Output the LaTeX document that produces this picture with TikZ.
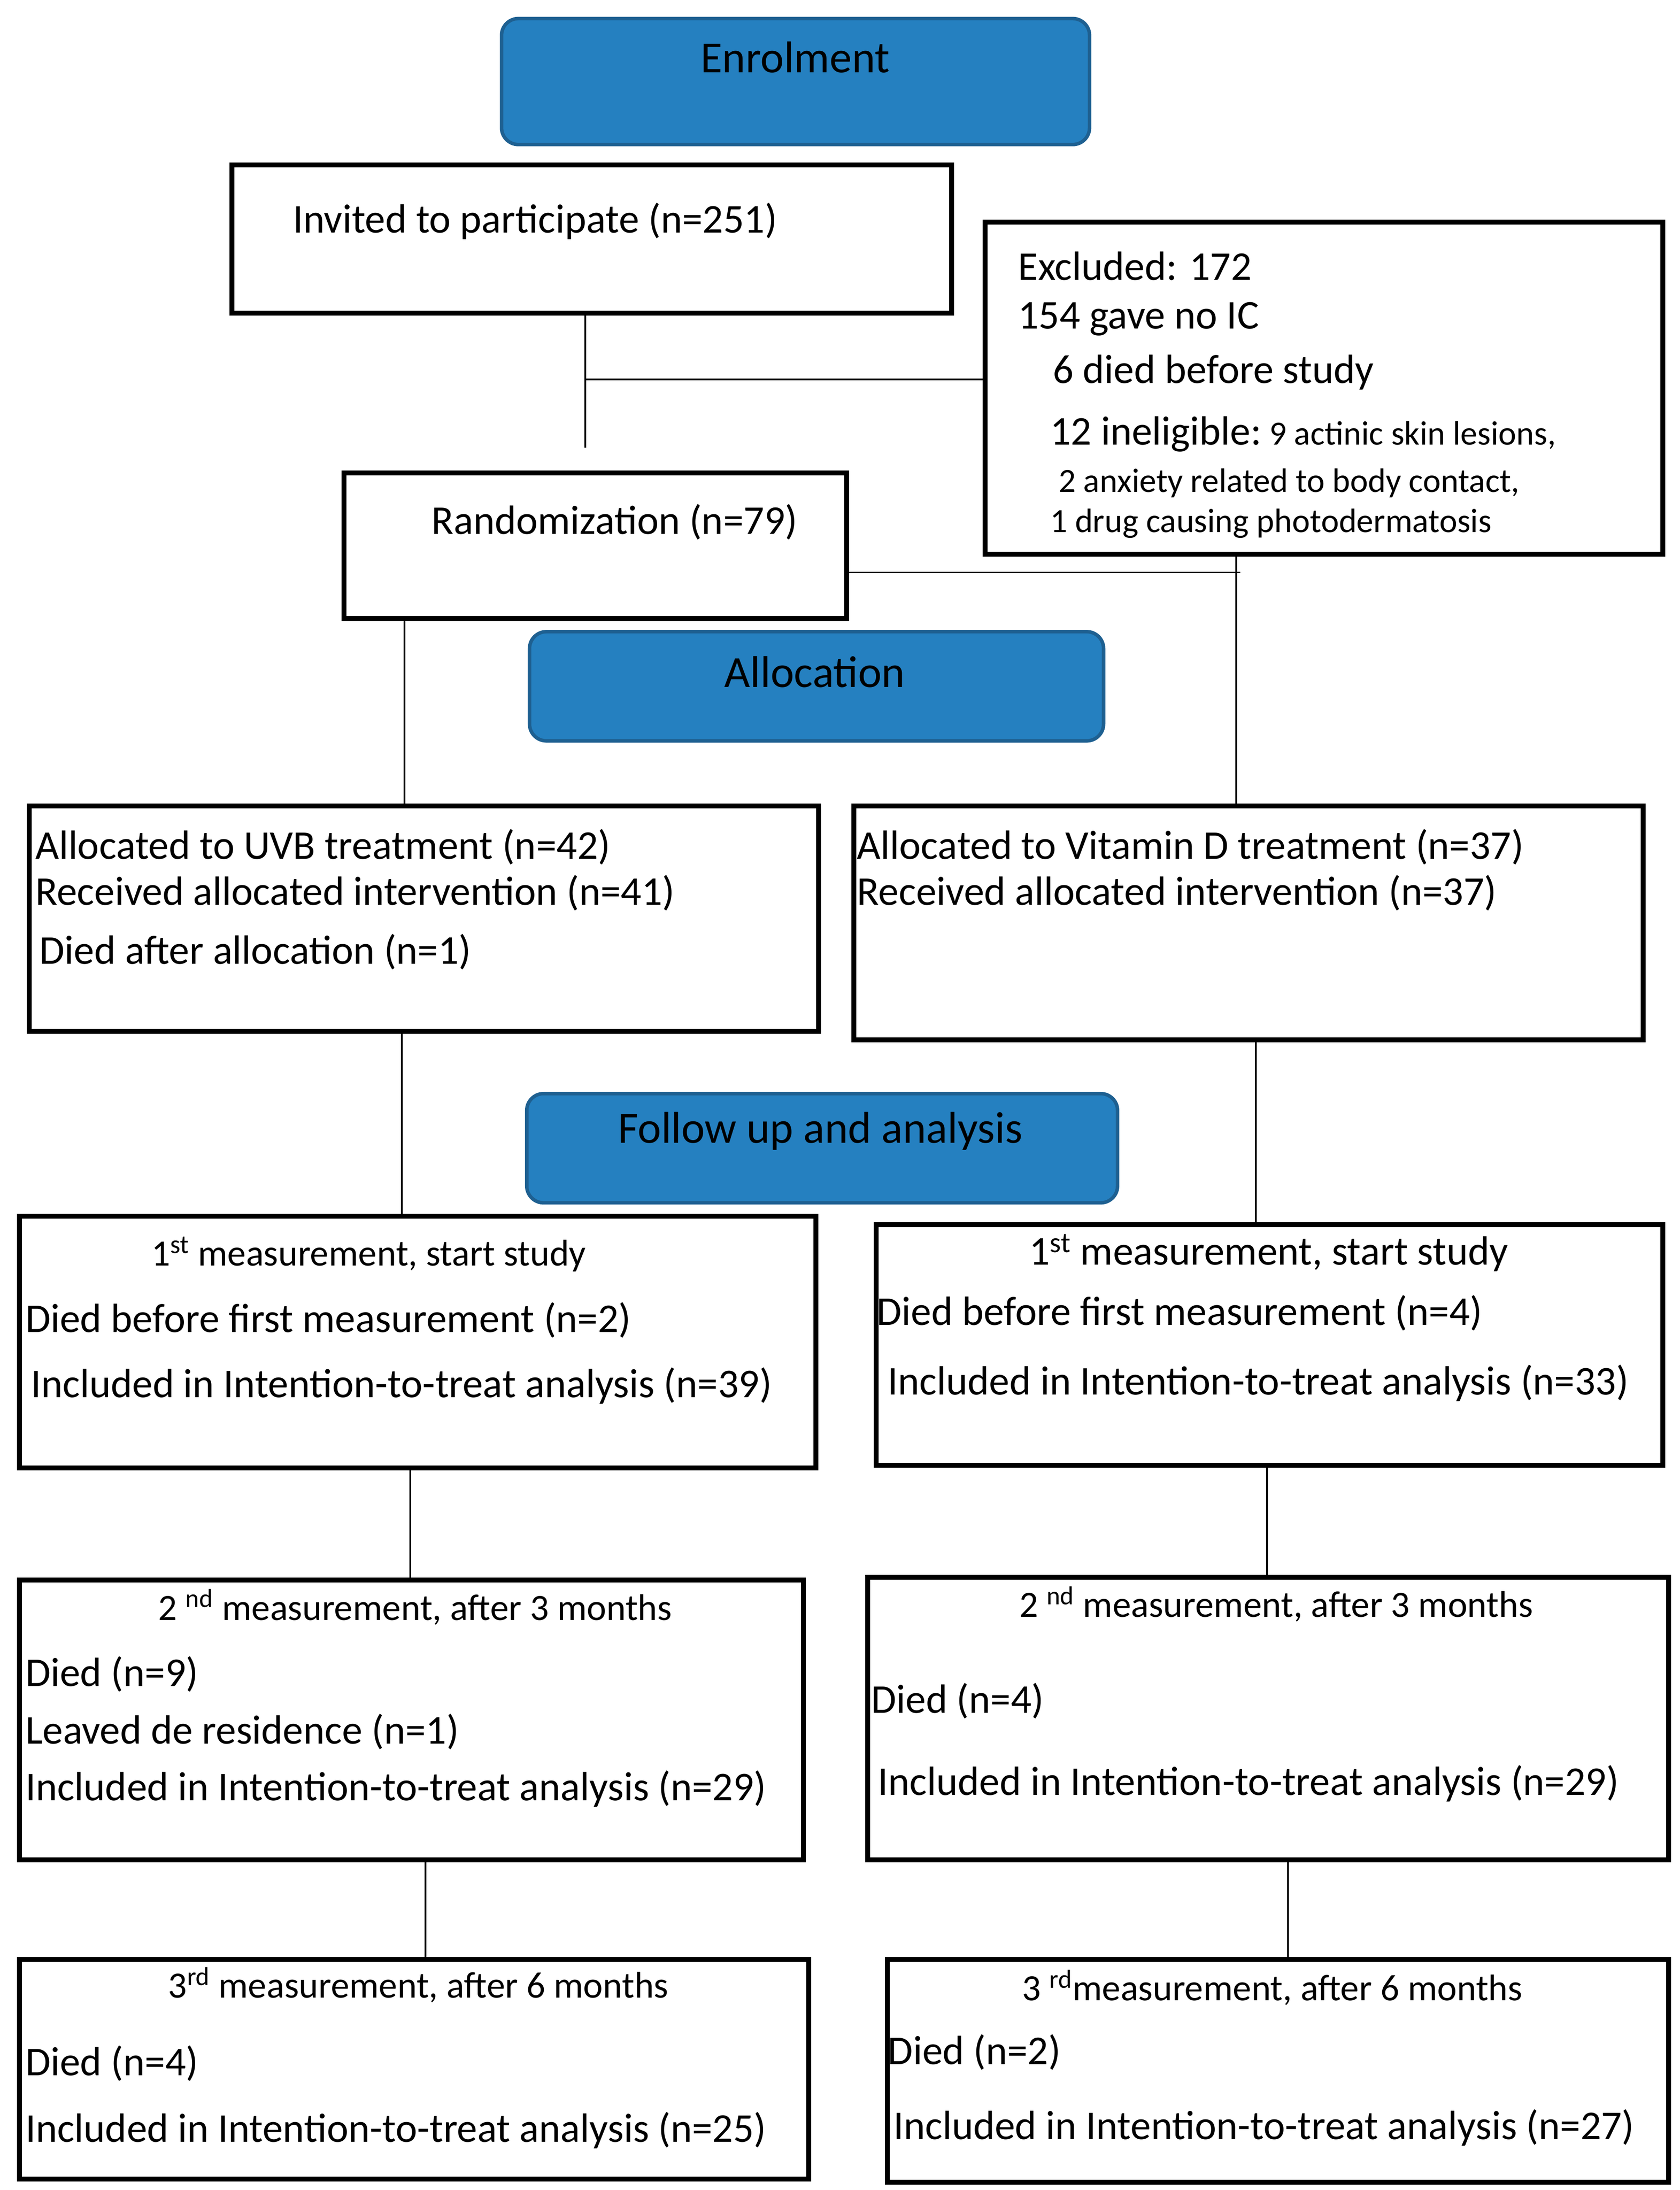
\documentclass[tikz,border=0pt]{standalone}
\usepackage{fontspec}
\setmainfont{Carlito}
\definecolor{hdrblue}{RGB}{37,128,192}
\definecolor{hdrborder}{RGB}{30,96,145}
\begin{document}
\begin{tikzpicture}[x=1pt,y=-1pt,
  box/.style={draw, line width=3.5pt, inner sep=0pt, anchor=north west},
  hdr/.style={draw=hdrborder, fill=hdrblue, line width=2.5pt, rounded corners=12pt, inner sep=0pt, anchor=north west},
  conn/.style={line width=1.2pt},
  txt/.style={anchor=west, inner sep=0pt, font=\fontsize{29.2}{34}\selectfont},
  mtxt/.style={anchor=west, inner sep=0pt, font=\fontsize{26.5}{31}\selectfont},
  htxt/.style={anchor=center, inner sep=0pt, font=\fontsize{31.8}{36}\selectfont},
  small/.style={anchor=west, inner sep=0pt, font=\fontsize{24.2}{28}\selectfont}]
\useasboundingbox (0,0) rectangle (1200,1564.5);

% header boxes
\node[hdr, minimum width=420pt, minimum height=90pt] (enr) at (357,12) {};
\node[htxt] (enrt) at (568,41) {Enrolment};
\node[hdr, minimum width=410pt, minimum height=78pt] (alc) at (377,450) {};
\node[htxt] (alct) at (582,480) {Allocation};
\node[hdr, minimum width=422pt, minimum height=78pt] (fup) at (375,780) {};
\node[htxt] (fupt) at (586,808) {Follow up and analysis};

% enrolment boxes
\node[box, minimum width=514pt, minimum height=106pt] (inv) at (164,116) {};
\node[txt] (invt) at (209,158) {Invited to participate (n=251)};
\node[box, minimum width=484pt, minimum height=237pt] (excl) at (702,157) {};
\node[txt] (ex1) at (727,190) {Excluded: 172};
\node[txt] (ex2) at (727,228) {154 gave no IC};
\node[txt] (ex3) at (752,266) {6 died before study};
\node[txt] (ex4) at (750,310) {12 ineligible:\fontsize{24.2}{28}\selectfont\ 9 actinic skin lesions,};
\node[small] (ex5) at (756,345) {2 anxiety related to body contact,};
\node[small] (ex6) at (750,374) {1 drug causing photodermatosis};
\node[box, minimum width=359pt, minimum height=104pt] (rand) at (244,336) {};
\node[txt] (randt) at (308,373) {Randomization (n=79)};

% allocation boxes
\node[box, minimum width=564pt, minimum height=161pt] (uvb) at (19,574) {};
\node[txt] (uvb1) at (25,605) {Allocated to UVB treatment (n=42)};
\node[txt] (uvb2) at (25,638) {Received allocated intervention (n=41)};
\node[txt] (uvb3) at (28,680) {Died after allocation (n=1)};
\node[box, minimum width=564pt, minimum height=167pt] (vitd) at (608,574) {};
\node[txt] (vd1) at (612,605) {Allocated to Vitamin D treatment (n=37)};
\node[txt] (vd2) at (612,638) {Received allocated intervention (n=37)};

% 1st measurement
\node[box, minimum width=569pt, minimum height=180pt] (m1l) at (12,867) {};
\node[mtxt] (m1l1) at (108,896) {1\textsuperscript{st} measurement, start study};
\node[txt] (m1l2) at (18,943) {Died before first measurement (n=2)};
\node[txt] (m1l3) at (22,990) {Included in Intention-to-treat analysis (n=39)};
\node[box, minimum width=562pt, minimum height=172pt] (m1r) at (624,873) {};
\node[txt] (m1r1) at (735,895) {1\textsuperscript{st} measurement, start study};
\node[txt] (m1r2) at (626,938) {Died before first measurement (n=4)};
\node[txt] (m1r3) at (634,988) {Included in Intention-to-treat analysis (n=33)};

% 2nd measurement
\node[box, minimum width=560pt, minimum height=200pt] (m2l) at (12,1127) {};
\node[mtxt] (m2l1) at (113,1148) {2 \textsuperscript{nd} measurement, after 3 months};
\node[txt] (m2l2) at (18,1196) {Died (n=9)};
\node[txt] (m2l3) at (18,1237) {Leaved de residence (n=1)};
\node[txt] (m2l4) at (18,1278) {Included in Intention-to-treat analysis (n=29)};
\node[box, minimum width=572pt, minimum height=202pt] (m2r) at (618,1125) {};
\node[mtxt] (m2r1) at (728,1146) {2 \textsuperscript{nd} measurement, after 3 months};
\node[txt] (m2r2) at (622,1215) {Died (n=4)};
\node[txt] (m2r3) at (627,1274) {Included in Intention-to-treat analysis (n=29)};

% 3rd measurement
\node[box, minimum width=564pt, minimum height=157pt] (m3l) at (12,1398) {};
\node[mtxt] (m3l1) at (120,1418) {3\textsuperscript{rd} measurement, after 6 months};
\node[txt] (m3l2) at (18,1474) {Died (n=4)};
\node[txt] (m3l3) at (18,1522) {Included in Intention-to-treat analysis (n=25)};
\node[box, minimum width=558pt, minimum height=159pt] (m3r) at (632,1398) {};
\node[mtxt] (m3r1) at (730,1420) {3 \textsuperscript{rd}measurement, after 6 months};
\node[txt] (m3r2) at (634,1466) {Died (n=2)};
\node[txt] (m3r3) at (638,1520) {Included in Intention-to-treat analysis (n=27)};

% connectors
\coordinate (j1) at (418,320);
\coordinate (j2) at (418,271);
\coordinate (j3) at (886,409);
\coordinate (cx1) at (289,0);
\coordinate (cx2) at (883,0);
\coordinate (cx3) at (287,0);
\coordinate (cx4) at (897,0);
\coordinate (cx5) at (293,0);
\coordinate (cx6) at (905,0);
\coordinate (cx7) at (304,0);
\coordinate (cx8) at (920,0);
\draw[conn] (inv.south -| j1) -- (j1);
\draw[conn] (j2) -- (j2 -| excl.west);
\draw[conn] (j3 -| rand.east) -- (j3);
\draw[conn] (excl.south -| cx2) -- (vitd.north -| cx2);
\draw[conn] (rand.south -| cx1) -- (uvb.north -| cx1);
\draw[conn] (uvb.south -| cx3) -- (m1l.north -| cx3);
\draw[conn] (vitd.south -| cx4) -- (m1r.north -| cx4);
\draw[conn] (m1l.south -| cx5) -- (m2l.north -| cx5);
\draw[conn] (m1r.south -| cx6) -- (m2r.north -| cx6);
\draw[conn] (m2l.south -| cx7) -- (m3l.north -| cx7);
\draw[conn] (m2r.south -| cx8) -- (m3r.north -| cx8);
\end{tikzpicture}
\end{document}
